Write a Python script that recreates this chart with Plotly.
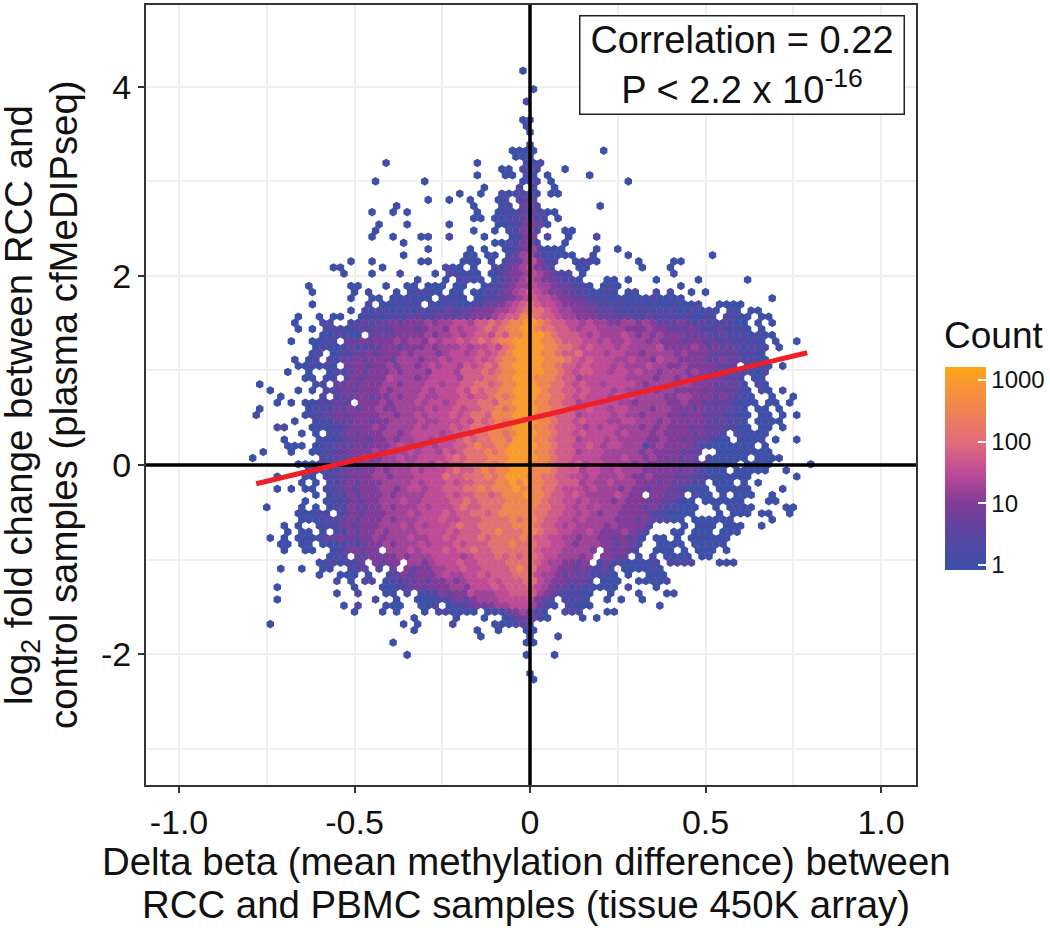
import plotly.graph_objects as go

# hex cells, one string per hexbin row from the top.
# left of | runs up to the column just before x=0, right of | starts at x=0
# each char is a colour level (see level_log_count), "." = empty
hex_rows = [
    "0|", "|", "|", "|0", "|", "1|", "|", "|", "0|0", "0|",
    "|0", "|", "|1", "000|0.........0", "00|0",
    "0............0......1|01", "00.1|11...0", "0...00.1|0.0.....0",
    "0......0.............0|11.0..........0", "0....1.|1..0",
    "0..0..1011|10.00", "0..0..0...01.12|2", "0..........0...01.2|21........0",
    "0..0.0.........0..01012|2100", "00.00112|211.0",
    "0...0.....0......00113|320", "0.............0..0.113|31...00",
    "0..0...00..1....0...013|3.1..0...1", "0............00113|31...0",
    "0.....0.0..0123|41000....0..0",
    "0........00.00.124|4210000..0....0...........0",
    "0..0......00....000.0.1224|5311..0110.....0....00",
    "00.....0........100.0..11234|5321...00.......0...0",
    "0...0...1....0.11000.012334|543211.0............1",
    "0...0.1101.01234|54322110...00.0...0.....0......0",
    "0.....00...0..00.000.00..0112344|544322110.010........0",
    "0.....0.1...0.01100.00.00112345|6543322110010.01..1.1..0.0",
    "0..00.001000.1010.01122345|6554332211100100010000............0",
    "0.......1.001011.10110011223456|7655433322111101101001001..0000",
    "0.101101101111212233344567|776544333222111111111011010.10.00",
    "0..0.00..011011122112222233345668|876654433322222112111111011.1100.00",
    "0... 11..1 12122 32333 43445 54667 67889|98766 55454 43344 34322 23212 11110 0.0.0",
    "0.0. 11101 21222 33323 44354 55676 7889|98776 65455 44443 33433 22232 11211 10.0.",
    "00110 0.222 23333 43445 45665 76889|99876 66545 44454 34343 33222 21211 10100",
    "0.. 0011. 22323 33434 43545 56567 67889 9|99887 66655 45445 44343 33233 22121 1110.0..0",
    "01001 21122 33233 34344 45455 65789 9|99887 76565 55454 44453 33343 23222 1111.0",
    "01.01 12232 33343 44434 55456 56789 9|99887 66755 54554 43444 43433 32222 1110.",
    "0. 01.11 22323 33244 43445 45556 56788 99|99888 76565 55445 44354 43333 22322 1100",
    "0 01010 .2332 33434 43454 55465 67688 99|99887 66565 55454 44544 33433 33222 .1100 .0",
    "0.. 0..01 12323 33434 44355 54666 76788 99|99887 65665 54554 54434 44343 32322 1101",
    "00.01 .2323 33544 43455 55466 67788 99|98887 66455 55554 44434 43433 23322 1.00",
    "0....... 01.22 32333 44344 45545 56677 67889 9|98877 65655 45555 43444 34433 32222 0.10",
    "0...0. 0.112 32333 43444 45455 56576 77889 9|99877 66565 55454 44434 43333 23222 10.10 .0",
    "0.... .1.12 23323 34344 54455 56566 78789 9|98877 65655 54555 44443 34433 32321 10..0..0",
    "0.0. 00112 22.33 34344 45455 45666 77688 99|98877 66455 55544 34444 33433 22221 000.0 0.0",
    "0...... 01112 23233 43344 44545 56566 77878 99|98877 65565 54554 44344 33323 22221 0.00. 0",
    "0...... 01122 32333 34434 45455 56567 76888 99|98876 66455 55454 43444 33233 22211 00.00 .0.0",
    "0.. 01122 23323 34444 54455 56576 78789 9|98876 65655 54455 44434 33333 21211 0.000 0",
    "11.. .0001 12333 43444 45455 56567 76888 99|98876 66545 45544 43434 33323 22211 00.00 .0",
    "0. 0.112 32333 44345 55545 66577 88789 9|98876 65655 55454 44343 33323 221.1 0000",
    "0.... 01012 23233 43445 54555 67677 88799|98876 66455 54544 44334 33232 2100. 0000.0..0",
    "000. 01122 23233 34544 45455 66787 78899 9|98876 65565 45544 41343 33321 00000 00.0",
    "0...0..0 01122 33343 44454 55465 67778 78999|98876 66455 54444 43433 33222 ..000 00000",
    "0........ .1122 33433 44544 55556 76777 88899 9|98876 65555 44454 43433 3232. 10000 0.000 0",
    "00 01112 32333 44454 55465 66777 87899 9|88876 65645 54444 34333 23222 10000 .0000 ..... 0",
    "00011 23233 43444 54555 67667 87889 99|88876 66455 44544 43333 32321 000.0 0000. .0",
    "0... 00.11 22333 44344 45555 76677 78789 99|88776 65545 44454 33433 32221 10000 00... ...0",
    "0.0.1 12323 33444 45455 56566 77788 989|88776 66454 45444 33323 22211 .000. 0.0",
    "0.0. 00.11 23233 34434 55455 66677 87888 98|88776 55545 44434 33233 22100 0.000 00.. ..0",
    "..0.0 11323 33434 44455 56566 77678 889|88766 56544 44543 3.332 22.10 0.0.0 00..0",
    ".0..0 11232 33444 54455 55667 67777 888|88766 55454 44343 33232 2100. 00000 0...0 0",
    "0.... 0.0.0 11322 33434 44545 55676 67778 888|87766 54545 44433 32321 1000. .0.00 00... .00",
    "00011 .1232 33344 45455 56566 77678 888|87766 55454 34433 33211 0000. ..0.0 00.00 ..0",
    "00011 12323 33434 44555 65566 67777 878|87665 54544 44333 23211 00.00 0000. ....0",
    "0. 0..01 12323 33444 54545 55676 67777 788|87665 45444 43433 331.. ..0.0 00.00 0..0",
    "0. 00.0. 11323 34344 44555 56566 67787 778|87665 54454 33343 21... 00.00 0.000",
    "0.0. 00012 23223 34344 45445 56566 67677 778|76655 44344 33232 20.00 .0.00 0000",
    "00. 00.00 11212 33434 44545 55656 66777 877|76655 43444 33232 1..00 00.00 000",
    "0. .00.. 01232 33.44 45455 56566 76677 777|76555 44443 .3232 1..00 0.0.0 00.0",
    "..011 .2232 33434 44555 54566 67676 7|76554 4434. 3322. 0.1.0 000.0 0",
    "01101 12.32 33.44 34555 65566 66777|76544 3323. 12110 0101. 1111. ..000",
    "0..0.. 00..1 12.1. 2.323 34455 65566 66787|75543 32321 21.00 0010",
    "0..00 0.0.. 12323 33454 45565 66677|75443 23221 110.0 ..000",
    "1.0.11. 01122 32334 34555 65666 7|75433 2221. 000.. 00001",
    "0 .......... 0... 00112 32333 44355 56566 6|65432 21210 000.1 ...0",
    "0..1...00.1. 01132 33544 45566 6|64321 1100. .0... 0...0 0",
    "0 ............. 1..0.. 00011 23234 44555 5|5321. 1110. .0.0. .0",
    "0.1...000..00 1.011 23234 4555|4210. 1000. ..... ...0",
    "0...0.0...0.11 0000. 001234|210.. 111.. .00",
    "0.....0...0..0123|210.. ..0.0",
    "0 .................. 0.0....1.....00012|1",
    "0........0..0...0|0",
    "0......|0...0",
    "0..................0|0",
    "|",
    "0................0|...0",
    "|", "|", "|0", "|0",
]

column_step = 0.02
row_step = 0.065
top_row_y = 4.168

# log10(count) for each level char
level_log_count = [0, 0.3, 0.65, 1.0, 1.25, 1.5, 1.75, 2.1, 2.55, 3.0]

count_ticks = [0, 1, 2, 3]
count_labels = ["1", "10", "100", "1000"]
count_min = -0.08
count_max = 3.21

x_ticks = [-1, -0.5, 0, 0.5, 1]
x_labels = ["-1.0", "-0.5", "0", "0.5", "1.0"]
x_minor = [-0.75, -0.25, 0.25, 0.75]
y_ticks = [-2, 0, 2, 4]
y_labels = ["-2", "0", "2", "4"]
y_minor = [-3, -1, 1, 3]

fit_x = [-0.78, 0.79]
fit_y = [-0.198, 1.187]

x_range = [-1.094, 1.0997]
y_range = [-3.383, 4.863]

FONT = "Liberation Sans"
INK = "#111"
PANEL = dict(l=146, r=916, t=5, b=785)


def paper_x(px):
    return (px - PANEL["l"]) / (PANEL["r"] - PANEL["l"])


def paper_y(py):
    return (PANEL["b"] - py) / (PANEL["b"] - PANEL["t"])


hex_x, hex_y, hex_v = [], [], []
for r, row in enumerate(hex_rows):
    left, right = row.replace(" ", "").split("|")
    shift = 0.5 * (r % 2)
    cells = [(-1 - i, ch) for i, ch in enumerate(reversed(left))]
    cells += [(i, ch) for i, ch in enumerate(right)]
    for k, ch in cells:
        if ch == ".":
            continue
        hex_x.append((k + shift) * column_step)
        hex_y.append(top_row_y - r * row_step)
        hex_v.append(level_log_count[int(ch)])

span = count_max - count_min


def stop(v):
    return (v - count_min) / span


colorscale = [
    [0, "rgb(58,80,168)"],
    [stop(0.5), "rgb(90,70,160)"],
    [stop(1), "rgb(128,60,152)"],
    [stop(1.5), "rgb(190,75,150)"],
    [stop(2), "rgb(226,108,122)"],
    [stop(3), "rgb(250,155,45)"],
    [1, "rgb(253,165,20)"],
]

fig = go.Figure()
fig.add_trace(go.Scatter(
    x=hex_x, y=hex_y, mode="markers", hoverinfo="skip",
    marker=dict(
        symbol="hexagon", size=8.6, line_width=0,
        color=hex_v, colorscale=colorscale, cmin=count_min, cmax=count_max,
        colorbar=dict(
            xref="paper", yref="paper",
            x=paper_x(945), xanchor="left", xpad=0,
            y=paper_y(367), yanchor="top", ypad=0,
            thicknessmode="pixels", thickness=41,
            lenmode="pixels", len=203,
            tickmode="array", tickvals=count_ticks, ticktext=count_labels,
            ticks="inside", ticklen=8, tickwidth=1.5, tickcolor="white",
            tickfont=dict(family=FONT, size=24, color=INK),
            outlinewidth=0,
        ),
    ),
    showlegend=False,
))
fig.add_trace(go.Scatter(x=[0, 0], y=y_range, mode="lines", hoverinfo="skip",
                         line=dict(color="black", width=3.5), showlegend=False))
fig.add_trace(go.Scatter(x=x_range, y=[0, 0], mode="lines", hoverinfo="skip",
                         line=dict(color="black", width=3.5), showlegend=False))
fig.add_trace(go.Scatter(x=fit_x, y=fit_y, mode="lines", hoverinfo="skip",
                         line=dict(color="#ee2027", width=5), showlegend=False))

axis_style = dict(
    showline=True, linecolor="#333", linewidth=2, mirror=True,
    ticks="outside", ticklen=6, tickwidth=2, tickcolor="#333",
    showgrid=True, gridcolor="#efeff1", gridwidth=2, zeroline=False,
    tickfont=dict(family=FONT, size=34, color=INK),
)
fig.update_xaxes(
    range=x_range, tickmode="array", tickvals=x_ticks, ticktext=x_labels,
    minor=dict(tickvals=x_minor, showgrid=True, gridcolor="#efeff1", gridwidth=2, ticks=""),
    **axis_style,
)
fig.update_yaxes(
    range=y_range, tickmode="array", tickvals=y_ticks, ticktext=y_labels,
    minor=dict(tickvals=y_minor, showgrid=True, gridcolor="#efeff1", gridwidth=1.5, ticks=""),
    **axis_style,
)

# white ticks on the left edge of the colour bar, the bar only draws the right ones
for v in count_ticks:
    tick_y = paper_y(367 + (count_max - v) / span * 203)
    fig.add_shape(type="line", xref="paper", yref="paper", layer="above",
                  x0=paper_x(945), x1=paper_x(953), y0=tick_y, y1=tick_y,
                  line=dict(color="white", width=1.5))


def label(text, px, py, size, angle=0):
    fig.add_annotation(xref="paper", yref="paper", x=paper_x(px), y=paper_y(py),
                       xanchor="center", yanchor="middle", showarrow=False, text=text,
                       textangle=angle, font=dict(family=FONT, size=size, color=INK))


# the titles sit closer than plotly's line spacing, so each line is placed on its own
label("Delta beta (mean methylation difference) between", 526, 861, 38.4)
label("RCC and PBMC samples (tissue 450K array)", 526, 905, 38.4)
label("log<sub>2</sub> fold change between RCC and", 22, 405, 38.4, -90)
label("control samples (plasma cfMeDIPseq)", 64, 405, 38.4, -90)
label("Count", 994, 335, 37)

fig.add_annotation(
    xref="paper", yref="paper", x=paper_x(742), y=paper_y(65),
    xanchor="center", yanchor="middle", showarrow=False,
    text="Correlation = 0.22<br>P < 2.2 x 10<sup>-16</sup>",
    font=dict(family=FONT, size=38, color=INK), align="center",
    bgcolor="white", bordercolor="#222", borderwidth=1.5,
    width=321, height=95,
)

fig.update_layout(
    width=1050, height=928, autosize=False,
    margin=dict(l=PANEL["l"], r=1050 - PANEL["r"], t=PANEL["t"], b=928 - PANEL["b"], pad=0,
                autoexpand=False),
    paper_bgcolor="white", plot_bgcolor="white",
)

fig.write_html("out.html", config=dict(displayModeBar=False),
               post_script="document.body.style.margin='0';")
